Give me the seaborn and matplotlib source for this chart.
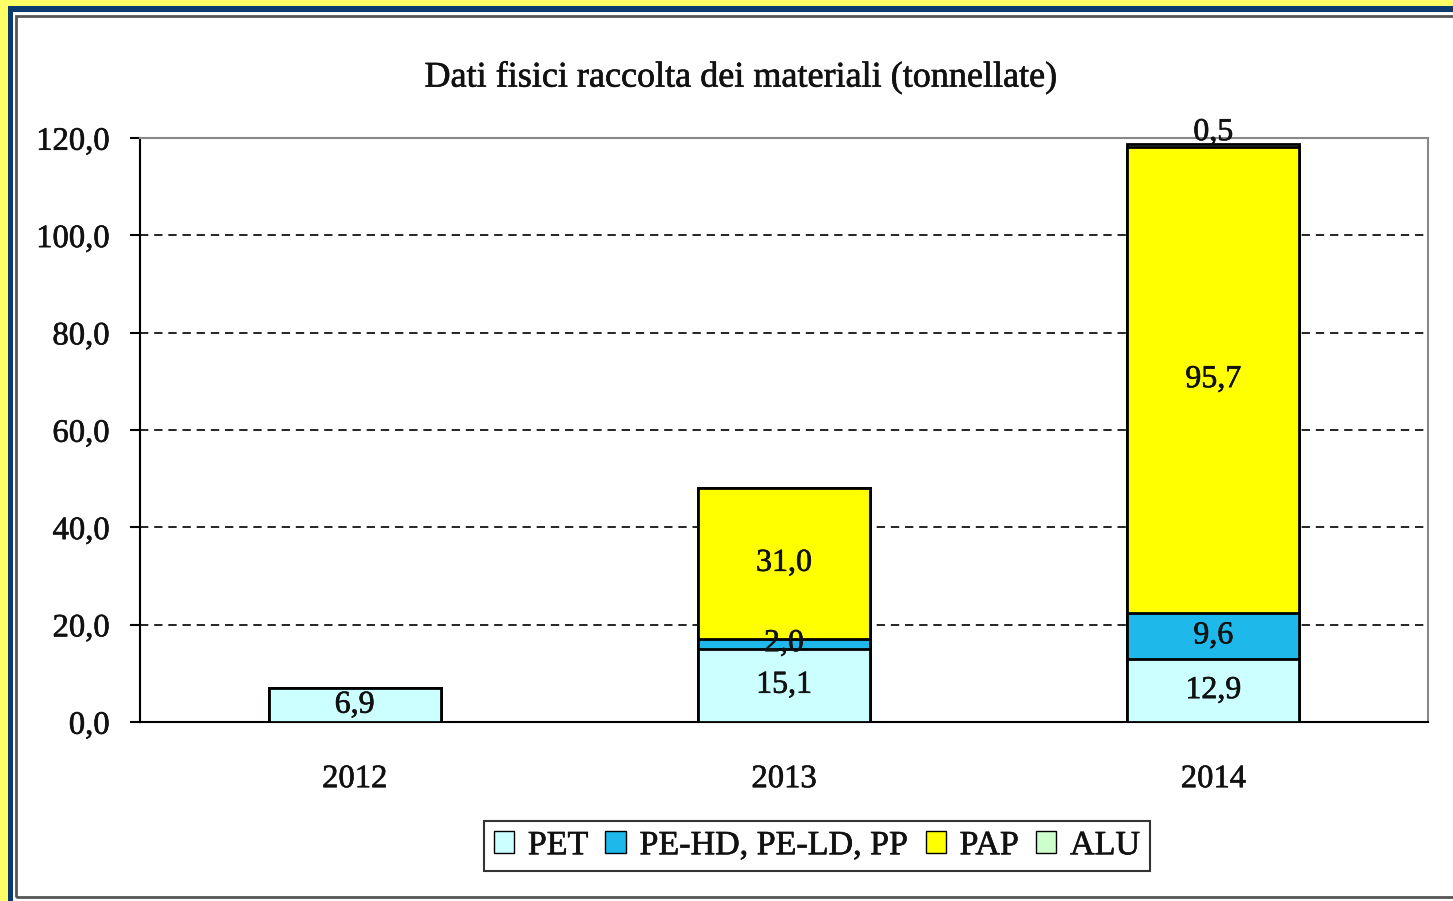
import numpy as np
import pandas as pd
import matplotlib
matplotlib.use("Agg")
import matplotlib.pyplot as plt
import matplotlib.patheffects as pe_fx
from matplotlib.patches import Rectangle, Patch
from matplotlib.text import Text
import seaborn as sns

# Data (tonnellate)
years = ["2012", "2013", "2014"]
series = ["PET", "PE-HD, PE-LD, PP", "PAP", "ALU"]
pet = [6.9, 15.1, 12.9]
pe = [0.0, 2.0, 9.6]
pap = [0.0, 31.0, 95.7]
alu = [0.0, 0.0, 0.5]
colors = ["#CCFFFF", "#1EB8EA", "#FFFF00", "#CCFFCC"]

sns.set_theme(style="white")
plt.rcParams["font.family"] = ["Liberation Serif", "DejaVu Serif"]

W, H = 1453, 901
fig = plt.figure(figsize=(W / 100, H / 100), dpi=100, facecolor="#FFFF66")

# Frame: yellow outer, navy band, white inside, thin gray border
fig.add_artist(Rectangle((8 / W, -0.1), 1.2, 1 - 6 / H + 0.1, transform=fig.transFigure,
                         facecolor="#0B3A6E", edgecolor="none", zorder=-3))
fig.add_artist(Rectangle((13 / W, -0.1), 1.2, 1 - 12 / H + 0.1, transform=fig.transFigure,
                         facecolor="white", edgecolor="none", zorder=-2))
fig.add_artist(Rectangle((15.5 / W, 1 - 897 / H), 1.2, (897 - 15.5) / H, transform=fig.transFigure,
                         facecolor="none", edgecolor="#555555", linewidth=2, zorder=-1))

ax = fig.add_axes([140 / W, 1 - 722 / H, (1428 - 140) / W, (722 - 138) / H])
ax.set_facecolor("none")

df = pd.DataFrame({"anno": years, "PET": pet, "PE": pe, "PAP": pap, "ALU": alu})
cums = np.cumsum(np.array([pet, pe, pap, alu]), axis=0)

# draw stacked bars from top layer down so lower layers cover upper ones
for i in range(3, -1, -1):
    df["cum"] = cums[i]
    sns.barplot(data=df, x="anno", y="cum", color=colors[i], saturation=1,
                width=0.4, edgecolor="black", linewidth=2, ax=ax, zorder=3)

fmt = lambda v: f"{v:.1f}".replace(".", ",")
vals = [pet, pe, pap]
for j in range(3):
    base = 0.0
    for i in range(3):
        v = vals[i][j]
        if v > 0:
            ax.text(j, base + v / 2, fmt(v), ha="center", va="center",
                    fontsize=23, color="#111111", zorder=5)
        base += v
    if alu[j] > 0:
        ax.text(j, base + alu[j] + 2.4, fmt(alu[j]), ha="center", va="center",
                fontsize=23, color="#111111", zorder=5)

ax.set_ylim(0, 120)
ax.set_xlim(-0.5, 2.5)
ax.set_yticks(np.arange(0, 121, 20))
ax.set_yticklabels([fmt(v) for v in np.arange(0, 121, 20)], fontsize=23.5, color="#111111")
ax.set_xticks([0, 1, 2])
ax.set_xticklabels(years, fontsize=23.5, color="#111111")
ax.set_xticks([-0.5, 0.5, 1.5, 2.5], minor=True)
ax.tick_params(axis="x", which="major", length=0, pad=30)
ax.tick_params(axis="x", which="minor", length=10, width=1.5, color="black", direction="out")
ax.tick_params(axis="y", length=7, width=1.5, color="black", direction="out", left=True, pad=15)
ax.set_xlabel("")
ax.set_ylabel("")

for y in range(20, 101, 20):
    ax.axhline(y, color="black", linestyle=(0, (5, 3.5)), linewidth=1.2, zorder=1)

for s in ["left", "bottom"]:
    ax.spines[s].set_color("black")
    ax.spines[s].set_linewidth(1.5)
for s in ["top", "right"]:
    ax.spines[s].set_color("#888888")
    ax.spines[s].set_linewidth(1.5)
    ax.spines[s].set_visible(True)

fig.text(741 / W, 1 - 78 / H, "Dati fisici raccolta dei materiali (tonnellate)",
         ha="center", va="center", fontsize=26, color="#111111")

handles = [Patch(facecolor=c, edgecolor="black", linewidth=1) for c in colors]
leg = fig.legend(handles, series, loc="center", bbox_to_anchor=(817 / W, 1 - 846 / H),
                 ncol=4, fontsize=24.5, frameon=True, fancybox=False,
                 handlelength=0.6, handleheight=0.6, handletextpad=0.4,
                 columnspacing=0.5, borderpad=0.3, borderaxespad=0)
leg.get_frame().set_edgecolor("black")
leg.get_frame().set_linewidth(1.5)

# slightly heavier strokes on all text, like the source rendering
for t in fig.findobj(Text):
    t.set_color("#111111")
    t.set_path_effects([pe_fx.withStroke(linewidth=0.45, foreground="#111111")])

fig.savefig("out.png", dpi=100, facecolor=fig.get_facecolor())
